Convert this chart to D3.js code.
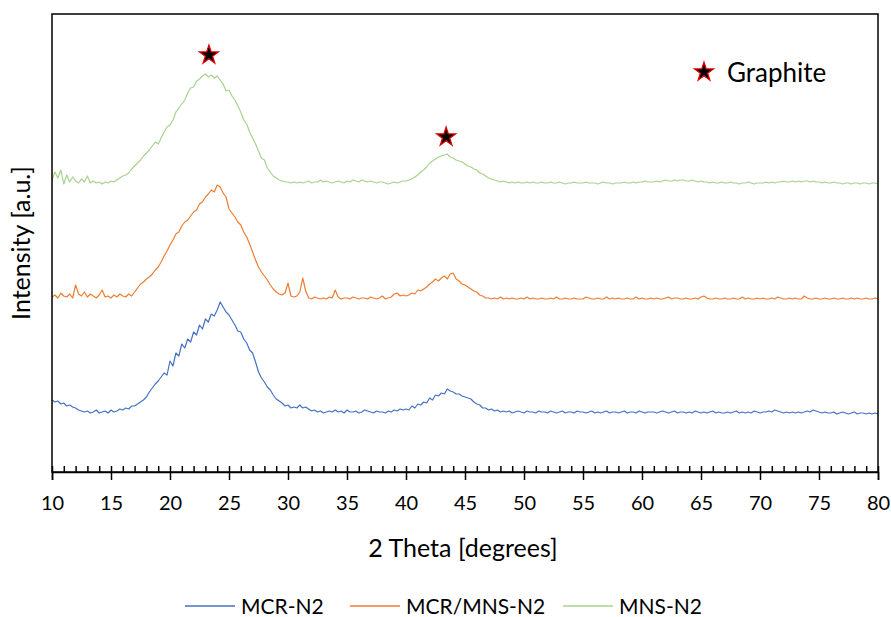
<!DOCTYPE html>
<html>
<head>
<meta charset="utf-8">
<script src="https://cdn.jsdelivr.net/npm/d3@7"></script>
<style>
  body { margin: 0; background: #fff; }
  text { font-family: Lato, "Open Sans", sans-serif; fill: #000; }
</style>
</head>
<body>
<svg id="chart" width="891" height="617"></svg>
<script>
// 2 theta grid, 0.25 degree steps from 10 to 80
const thetaStart = 10, thetaStep = 0.25;

// Intensity (arbitrary units, curves already offset)
const mcrN2 = [
  72,70,71,68,69,66,67,65,64,62,61,60,
  61,59,60,62,59,60,61,59,62,60,61,63,
  62,64,63,66,66,68,70,72,75,80,84,88,
  91,95,99,97,111,106,119,116,128,124,133,130,
  140,137,147,143,153,150,158,156,162,170,165,160,
  157,152,147,141,140,133,129,122,119,110,100,94,
  90,85,82,77,73,71,69,66,67,64,65,64,
  67,64,65,63,61,62,60,61,59,60,61,60,
  62,60,61,59,62,60,60,61,59,60,62,61,
  60,59,61,60,60,59,61,60,62,61,63,62,
  63,62,66,64,68,67,70,69,74,72,77,76,
  79,78,83,81,80,78,78,76,75,74,73,70,
  68,67,64,64,62,63,61,62,60,61,60,61,
  59,60,61,60,59,61,60,60,59,61,60,60,
  59,61,60,59,60,61,59,60,60,59,61,60,
  60,59,60,61,59,60,59,60,61,59,60,60,
  59,60,61,59,60,60,59,61,60,59,60,60,
  60,59,60,61,60,59,60,61,59,60,60,59,
  60,59,61,60,59,60,59,60,61,59,60,59,
  59,60,59,60,61,59,60,59,60,59,61,60,
  59,60,60,61,60,62,61,60,59,60,59,60,
  59,60,59,60,61,60,62,61,60,59,60,59,
  59,60,58,59,60,59,58,59,60,58,59,59,
  58,59,58,59,58
];

const mcrMnsN2 = [
  175,177,174,179,176,175,178,174,187,178,176,180,
  175,178,176,174,177,182,175,176,174,177,175,178,
  176,175,178,176,180,184,188,190,193,195,198,202,
  205,210,216,221,227,232,238,240,246,250,252,256,
  260,262,268,270,275,278,282,280,287,285,279,275,
  263,259,255,250,247,240,235,228,220,212,205,200,
  196,192,187,183,180,178,177,179,189,176,175,176,
  180,194,181,174,173,175,174,173,174,173,175,174,
  182,175,173,174,174,173,175,174,173,174,174,173,
  175,174,173,174,176,173,174,175,178,179,176,177,
  176,177,179,178,182,181,183,185,188,190,193,191,
  194,196,193,198,199,193,191,188,187,185,183,181,
  180,177,176,174,174,173,174,173,175,173,174,173,
  174,173,173,174,173,175,173,174,173,173,174,173,
  173,174,173,175,173,173,174,173,173,174,173,173,
  173,175,174,173,173,174,173,173,175,173,174,173,
  174,173,173,174,173,173,175,173,174,173,173,174,
  173,174,173,173,174,175,173,174,174,173,173,174,
  173,173,174,173,175,176,174,173,173,174,173,173,
  174,173,173,174,173,173,175,173,174,173,173,174,
  173,174,173,173,174,173,175,174,173,173,174,173,
  174,173,173,176,174,173,173,174,173,173,174,173,
  173,174,173,173,174,173,173,174,173,174,173,173,
  174,173,173,174,173
];

const mnsN2 = [
  292,300,294,302,288,297,290,295,291,289,293,290,
  296,289,291,289,290,288,290,289,291,290,292,294,
  296,297,299,303,306,309,312,316,319,322,326,330,
  328,334,340,345,347,352,360,364,368,372,379,384,
  385,391,393,396,398,395,397,394,396,392,388,381,
  382,376,372,366,360,352,348,340,334,328,321,314,
  312,304,300,296,294,292,291,290,290,289,290,289,
  290,289,290,291,289,290,290,292,290,291,290,289,
  290,291,290,289,291,290,292,291,290,292,291,290,
  291,290,289,290,290,289,288,289,290,289,290,291,
  291,292,293,295,297,300,302,305,309,311,313,315,
  316,317,318,315,314,312,311,310,308,306,305,303,
  302,299,298,296,294,293,292,291,290,291,290,289,
  290,289,290,289,289,290,289,290,289,289,290,289,
  289,290,289,289,290,289,288,289,289,290,289,289,
  289,290,289,289,289,288,289,290,289,289,288,289,
  289,289,290,289,289,290,289,290,290,291,290,290,
  290,291,290,291,292,291,291,292,291,292,292,291,
  291,292,291,290,291,290,290,289,290,289,289,290,
  289,289,290,289,289,288,289,289,290,289,288,289,
  289,289,290,289,290,289,290,290,291,290,290,291,
  290,291,290,291,291,290,291,290,290,289,290,289,
  289,290,289,289,288,289,289,288,289,289,288,289,
  289,288,289,289,288
];

const seriesNames = ["MCR-N2", "MCR/MNS-N2", "MNS-N2"];
const seriesColors = ["#4472C4", "#ED7D31", "#A9D18E"];

// graphite reflections (star markers)
const graphiteTheta = [23.3, 43.4];
const graphiteInt = [417, 335];

const majorTicks = d3.range(10, 81, 5);
const minorTicks = d3.range(10, 81, 1);

const svg = d3.select("#chart");
const plotLeft = 52, plotRight = 878, plotTop = 14, plotBottom = 472;

const x = d3.scaleLinear().domain([10, 80]).range([plotLeft, plotRight]);
const y = d3.scaleLinear().domain([0, 458]).range([plotBottom, plotTop]);

const line = d3.line()
    .x((d, i) => x(thetaStart + i * thetaStep))
    .y(d => y(d));

[mcrN2, mcrMnsN2, mnsN2].forEach((s, k) => {
    svg.append("path")
        .datum(s)
        .attr("fill", "none")
        .attr("stroke", seriesColors[k])
        .attr("stroke-width", 1.2)
        .attr("stroke-linejoin", "round")
        .attr("d", line);
});

// frame
svg.append("rect")
    .attr("x", plotLeft).attr("y", plotTop)
    .attr("width", plotRight - plotLeft).attr("height", plotBottom - plotTop)
    .attr("fill", "none").attr("stroke", "#000").attr("stroke-width", 1.5);

// minor ticks pointing up
svg.append("g")
    .attr("transform", `translate(0,${plotBottom})`)
    .call(d3.axisTop(x).tickValues(minorTicks).tickSize(6).tickFormat(""))
    .call(g => g.select(".domain").remove())
    .call(g => g.selectAll("line").attr("stroke-width", 1.5));

// major ticks crossing, with labels
svg.append("g")
    .attr("transform", `translate(0,${plotBottom})`)
    .call(d3.axisBottom(x).tickValues(majorTicks).tickSize(8).tickPadding(16))
    .call(g => g.select(".domain").attr("stroke-width", 1.5))
    .call(g => g.selectAll("line").attr("stroke-width", 1.5))
    .call(g => g.selectAll("text").attr("font-size", 20).attr("font-family", "Lato, sans-serif"));

svg.append("text")
    .attr("x", 463).attr("y", 557)
    .attr("text-anchor", "middle")
    .attr("font-size", 25)
    .text("2 Theta [degrees]");

svg.append("text")
    .attr("transform", "translate(30,243) rotate(-90)")
    .attr("text-anchor", "middle")
    .attr("font-size", 25)
    .text("Intensity [a.u.]");

// graphite stars
const star = d3.symbol().type(d3.symbolStar).size(110);
graphiteTheta.forEach((t, i) => {
    svg.append("path")
        .attr("d", star)
        .attr("transform", `translate(${x(t)},${y(graphiteInt[i])})`)
        .attr("fill", "#000").attr("stroke", "#E00000").attr("stroke-width", 1.3);
});

svg.append("path")
    .attr("d", star)
    .attr("transform", "translate(704,72)")
    .attr("fill", "#000").attr("stroke", "#E00000").attr("stroke-width", 1.3);
svg.append("text")
    .attr("x", 727).attr("y", 82)
    .attr("font-size", 26)
    .text("Graphite");

// bottom legend
const legendX = [185, 350, 563];
seriesNames.forEach((n, k) => {
    svg.append("line")
        .attr("x1", legendX[k]).attr("x2", legendX[k] + 50)
        .attr("y1", 606).attr("y2", 606)
        .attr("stroke", seriesColors[k]).attr("stroke-width", 1.5);
    svg.append("text")
        .attr("x", legendX[k] + 56).attr("y", 614)
        .attr("font-size", 21)
        .text(n);
});
</script>
</body>
</html>
